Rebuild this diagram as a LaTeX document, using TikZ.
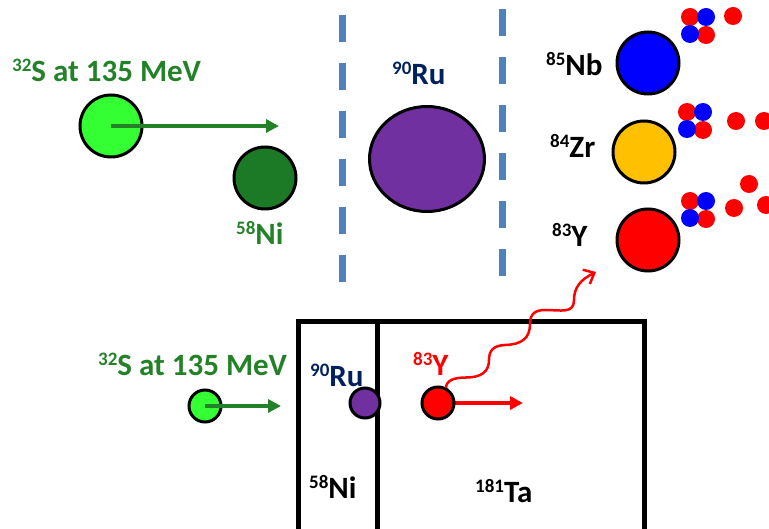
\documentclass[tikz,border=0pt]{standalone}
\usepackage{fontspec}
\setmainfont{Carlito}
\usetikzlibrary{arrows.meta,shapes.geometric}

\definecolor{beamgreen}{RGB}{35,130,40}
\definecolor{lightgreen}{RGB}{51,255,51}
\definecolor{nigreen}{RGB}{28,122,38}
\definecolor{rupurple}{RGB}{112,48,160}
\definecolor{navytext}{RGB}{0,32,96}
\definecolor{dashblue}{RGB}{79,129,189}
\definecolor{nbblue}{RGB}{0,0,255}
\definecolor{zrorange}{RGB}{255,192,0}
\definecolor{yred}{RGB}{255,0,0}

% isotope label: mass number as superscript
\newcommand{\iso}[2]{\raisebox{10pt}{\fontsize{19}{19}\selectfont #1}#2}

\tikzset{
  lbl/.style={font=\fontsize{31}{35}\selectfont\bfseries, inner sep=0pt, anchor=base west},
  nucleus/.style={circle, draw=black, line width=3pt, inner sep=0pt, minimum size=#1},
  nucleon/.style={circle, inner sep=0pt, minimum size=18pt, fill=#1},
  beam/.style={line width=3.5pt, -{Triangle[length=13pt,width=13pt]}},
  boundary/.style={dashblue, line width=7pt, dash pattern=on 27pt off 21pt},
  frame/.style={line width=5pt}
}

\begin{document}
\begin{tikzpicture}[x=1pt,y=-1pt]
\useasboundingbox (0,0) rectangle (769,529);

% ---------- upper part: fusion and evaporation ----------
\node[lbl, beamgreen] (sLabel) at (12,82) {\iso{32}{S at 135 MeV}};
\node[nucleus=62pt, fill=lightgreen] (sBeam) at (111,126) {};
\coordinate (sTip) at (279,126);
\draw[beam, beamgreen] (sBeam.center) -- (sTip);

\node[nucleus=62pt, fill=nigreen] (niTarget) at (265,178) {};
\node[lbl, beamgreen] (niLabel) at (236,245) {\iso{58}{Ni}};

\coordinate (dA1) at (342,15);  \coordinate (dA2) at (342,285);
\coordinate (dB1) at (502,9);   \coordinate (dB2) at (502,279);
\draw[boundary] (dA1) -- (dA2);
\draw[boundary] (dB1) -- (dB2);

\node[ellipse, draw=black, line width=3pt, fill=rupurple, minimum width=115pt, minimum height=105pt] (ruCN) at (427,159) {};
\node[lbl, navytext] (ruLabel) at (392,85) {\iso{90}{Ru}};

\node[nucleus=62pt, fill=nbblue] (nb) at (648,63) {};
\node[nucleus=62pt, fill=zrorange] (zr) at (644,152) {};
\node[nucleus=62pt, fill=yred] (yRes) at (648,240) {};
\node[lbl] (nbLabel) at (546,76) {\iso{85}{Nb}};
\node[lbl] (zrLabel) at (550,158) {\iso{84}{Zr}};
\node[lbl] (yLabel) at (552,247) {\iso{83}{Y}};

% evaporated particles
\foreach \cx/\cy/\k in {690/17/a, 687/112/b, 690/201/c}{
  \node[nucleon=yred]   (p1\k) at (\cx,\cy) {};
  \node[nucleon=nbblue] (n1\k) at (\cx+16,\cy) {};
  \node[nucleon=yred]   (p2\k) at (\cx+16,\cy+18) {};
  \node[nucleon=nbblue] (n2\k) at (\cx,\cy+17) {};
}
\node[nucleon=yred] (pa) at (733,16) {};
\node[nucleon=yred] (pb1) at (736,121) {};
\node[nucleon=yred] (pb2) at (764,121) {};
\node[nucleon=yred] (pc1) at (749,184) {};
\node[nucleon=yred] (pc2) at (734,208) {};
\node[nucleon=yred] (pc3) at (766,205) {};

% ---------- lower part: target stack ----------
\node[lbl, beamgreen] (sLabel2) at (98,376) {\iso{32}{S at 135 MeV}};
\coordinate (sTip2) at (281,406);
\node[nucleus=32pt, fill=lightgreen] (sBeam2) at (205,406) {};
\draw[beam, beamgreen] (sBeam2.center) -- (sTip2);

\draw[frame] (298,545) -- (298,321.5) -- (644,321.5) -- (644,545);
\draw[frame] (377,321.5) -- (377,545);

\node[nucleus=30pt, fill=rupurple] (ruRecoil) at (365,403) {};
\coordinate (yTip) at (523,403);
\coordinate (yStart) at (438,403);
\draw[beam, yred] (yStart) -- (yTip);
\node[nucleus=32pt, fill=yred] (yRecoil) at (438,403) {};

% emitted gamma ray (wavy)
\coordinate (gStart) at (446,388);
\coordinate (gTip) at (596,272);
\draw[yred, line width=2.5pt, -{Straight Barb[length=9pt,width=16pt]}]
  (gStart) .. controls (446,380) and (455,377.5) .. (466,377.5)
           .. controls (481,377.5) and (489,372) .. (489,360)
           .. controls (489,350) and (494,345.5) .. (505,345)
           .. controls (522,344.5) and (530,338) .. (530,324)
           .. controls (530,314) and (535,310) .. (545,310)
           .. controls (561,310) and (574,314) .. (574,300)
           .. controls (574,288) and (580,280) .. (gTip);

\node[lbl, navytext] (ruLabel2) at (310,387) {\iso{90}{Ru}};
\node[lbl, yred] (yLabel2) at (413,376) {\iso{83}{Y}};
\node[lbl] (niLabel2) at (309,498) {\iso{58}{Ni}};
\node[lbl] (taLabel) at (475,502) {\iso{181}{Ta}};
\end{tikzpicture}
\end{document}
